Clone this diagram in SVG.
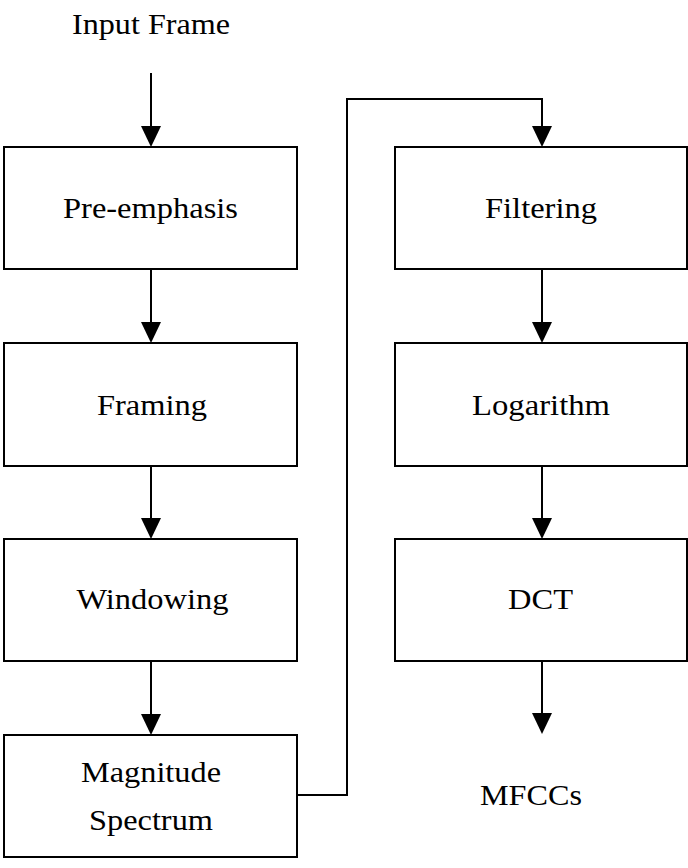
<svg xmlns="http://www.w3.org/2000/svg" width="688" height="868" viewBox="0 0 688 868">
<style>
.box{fill:#fff;stroke:#000;stroke-width:2}
.lbl{font-family:"Liberation Serif","Times New Roman",serif;font-size:29px;fill:#000;text-anchor:middle}
.con{fill:none;stroke:#000;stroke-width:2}
</style>
<defs>
<marker id="ah" viewBox="0 0 20 20" refX="10" refY="20" markerWidth="20" markerHeight="20" markerUnits="userSpaceOnUse" orient="auto-start-reverse">
<path d="M0,0 L20,0 L10,20 Z" fill="#000"/>
</marker>
</defs>
<rect width="688" height="868" fill="#fff"/>
<g id="connectors">
<line class="con" x1="151" y1="73" x2="151" y2="130"/>
<path d="M141,126 L161,126 L151,147 Z" fill="#000"/>
<line class="con" x1="151" y1="269" x2="151" y2="326"/>
<path d="M141,322 L161,322 L151,343 Z" fill="#000"/>
<line class="con" x1="151" y1="466" x2="151" y2="522"/>
<path d="M141,518 L161,518 L151,539 Z" fill="#000"/>
<line class="con" x1="151" y1="661" x2="151" y2="718"/>
<path d="M141,714 L161,714 L151,735 Z" fill="#000"/>
<polyline class="con" points="297,795 347,795 347,99 542,99 542,130"/>
<path d="M532,126 L552,126 L542,147 Z" fill="#000"/>
<line class="con" x1="542" y1="269" x2="542" y2="326"/>
<path d="M532,322 L552,322 L542,343 Z" fill="#000"/>
<line class="con" x1="542" y1="466" x2="542" y2="522"/>
<path d="M532,518 L552,518 L542,539 Z" fill="#000"/>
<line class="con" x1="542" y1="661" x2="542" y2="716"/>
<path d="M532,713 L552,713 L542,734 Z" fill="#000"/>
</g>
<g id="input">
<text class="lbl" x="151" y="34" textLength="158" lengthAdjust="spacingAndGlyphs">Input Frame</text>
</g>
<g id="preemphasis">
<rect class="box" x="4" y="147" width="293" height="122"/>
<text class="lbl" x="150.5" y="218" textLength="175" lengthAdjust="spacingAndGlyphs">Pre-emphasis</text>
</g>
<g id="framing">
<rect class="box" x="4" y="343" width="293" height="123"/>
<text class="lbl" x="152" y="415" textLength="110" lengthAdjust="spacingAndGlyphs">Framing</text>
</g>
<g id="windowing">
<rect class="box" x="4" y="539" width="293" height="122"/>
<text class="lbl" x="152.5" y="609" textLength="152" lengthAdjust="spacingAndGlyphs">Windowing</text>
</g>
<g id="magnitude">
<rect class="box" x="4" y="735" width="293" height="122"/>
<text class="lbl" x="151" y="782" textLength="140" lengthAdjust="spacingAndGlyphs">Magnitude</text>
<text class="lbl" x="151" y="830" textLength="124" lengthAdjust="spacingAndGlyphs">Spectrum</text>
</g>
<g id="filtering">
<rect class="box" x="395" y="147" width="292" height="122"/>
<text class="lbl" x="541" y="218" textLength="112" lengthAdjust="spacingAndGlyphs">Filtering</text>
</g>
<g id="logarithm">
<rect class="box" x="395" y="343" width="292" height="123"/>
<text class="lbl" x="541" y="415" textLength="138" lengthAdjust="spacingAndGlyphs">Logarithm</text>
</g>
<g id="dct">
<rect class="box" x="395" y="539" width="292" height="122"/>
<text class="lbl" x="540.5" y="609" textLength="65" lengthAdjust="spacingAndGlyphs">DCT</text>
</g>
<g id="mfccs">
<text class="lbl" x="531" y="805" textLength="102" lengthAdjust="spacingAndGlyphs">MFCCs</text>
</g>
</svg>
